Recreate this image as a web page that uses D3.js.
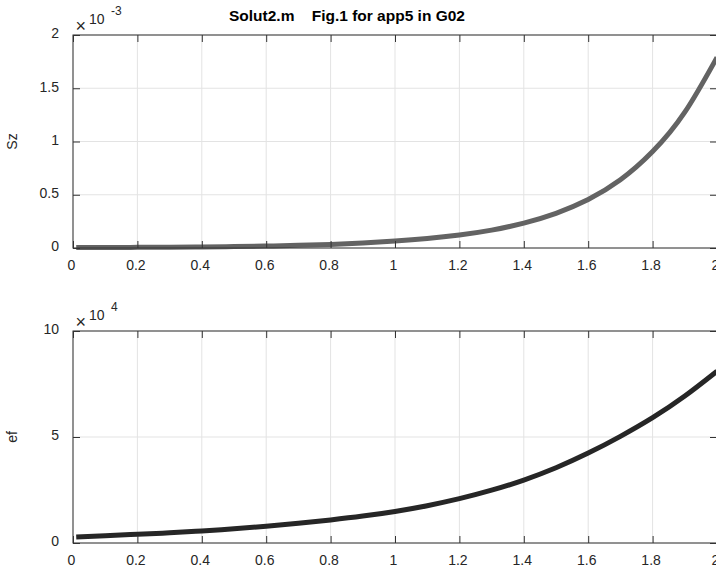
<!DOCTYPE html>
<html>
<head>
<meta charset="utf-8">
<script src="https://cdn.jsdelivr.net/npm/d3@7"></script>
<style>
  html, body { margin: 0; padding: 0; background: #fff; }
  svg { display: block; font-family: "Liberation Sans", Arial, Helvetica, sans-serif; }
</style>
</head>
<body>
<svg id="chart" width="716" height="569"></svg>
<script>
// ---- data ----
const xValues  = [0.01, 0.1, 0.2, 0.3, 0.4, 0.5, 0.6, 0.7, 0.8, 0.9, 1.0, 1.1, 1.2, 1.3, 1.4, 1.5, 1.6, 1.7, 1.8, 1.9, 2.0];
// Sz, in units of 1e-3
const szValues = [0.004, 0.005, 0.006, 0.008, 0.010, 0.013, 0.018, 0.025, 0.034, 0.047, 0.065, 0.089, 0.122, 0.168, 0.234, 0.326, 0.455, 0.640, 0.905, 1.275, 1.79];
// ef, in units of 1e4
const efValues = [0.28, 0.34, 0.41, 0.48, 0.57, 0.67, 0.79, 0.93, 1.09, 1.27, 1.49, 1.76, 2.09, 2.49, 2.97, 3.55, 4.24, 5.03, 5.91, 6.93, 8.10];

const xTicks      = [0, 0.2, 0.4, 0.6, 0.8, 1, 1.2, 1.4, 1.6, 1.8, 2];
const xTickLabels = ["0", "0.2", "0.4", "0.6", "0.8", "1", "1.2", "1.4", "1.6", "1.8", "2"];
const szTicks     = [0, 0.5, 1, 1.5, 2];
const szTickLabels = ["0", "0.5", "1", "1.5", "2"];
const efTicks     = [0, 5, 10];
const efTickLabels = ["0", "5", "10"];

const titleText = "Solut2.m\u00a0\u00a0\u00a0\u00a0Fig.1 for app5 in G02";

// ---- drawing ----
const svg = d3.select("#chart");
const axisColor = "#333333";
const gridColor = "#e3e3e3";
const fontSize = 14;

const x = d3.scaleLinear().domain([0, 2]).range([73, 717]);

function panel(cfg) {
  const y = d3.scaleLinear().domain(cfg.domain).range([cfg.bottom, cfg.top]);
  const g = svg.append("g");

  // grid
  g.append("g").selectAll("line").data(xTicks).join("line")
    .attr("x1", d => x(d)).attr("x2", d => x(d))
    .attr("y1", cfg.top).attr("y2", cfg.bottom)
    .attr("stroke", gridColor).attr("stroke-width", 1);
  g.append("g").selectAll("line").data(cfg.ticks).join("line")
    .attr("x1", x.range()[0]).attr("x2", x.range()[1])
    .attr("y1", d => y(d)).attr("y2", d => y(d))
    .attr("stroke", gridColor).attr("stroke-width", 1);

  // curve
  const line = d3.line()
    .x((d, i) => x(xValues[i]))
    .y(d => y(d))
    .curve(d3.curveNatural);
  g.append("path")
    .datum(cfg.values)
    .attr("d", line)
    .attr("fill", "none")
    .attr("stroke", cfg.color)
    .attr("stroke-width", 5);

  // box
  g.append("rect")
    .attr("x", x.range()[0]).attr("y", cfg.top)
    .attr("width", x.range()[1] - x.range()[0])
    .attr("height", cfg.bottom - cfg.top)
    .attr("fill", "none").attr("stroke", axisColor).attr("stroke-width", 1);

  // axes with inward ticks
  const xb = d3.axisBottom(x).tickValues(xTicks).tickSizeInner(-7).tickSizeOuter(0)
    .tickFormat((d, i) => xTickLabels[i]).tickPadding(12);
  const gx = g.append("g").attr("transform", `translate(0,${cfg.bottom})`).call(xb);
  const xt = d3.axisTop(x).tickValues(xTicks).tickSizeInner(-7).tickSizeOuter(0).tickFormat("");
  const gxt = g.append("g").attr("transform", `translate(0,${cfg.top})`).call(xt);

  const yl = d3.axisLeft(y).tickValues(cfg.ticks).tickSizeInner(-7).tickSizeOuter(0)
    .tickFormat((d, i) => cfg.labels[i]).tickPadding(14);
  const gy = g.append("g").attr("transform", `translate(${x.range()[0]},0)`).call(yl);
  const yr = d3.axisRight(y).tickValues(cfg.ticks).tickSizeInner(-7).tickSizeOuter(0).tickFormat("");
  const gyr = g.append("g").attr("transform", `translate(${x.range()[1]},0)`).call(yr);

  [gx, gxt, gy, gyr].forEach(a => {
    a.select(".domain").remove();
    a.selectAll("line").attr("stroke", axisColor);
    a.selectAll("text").attr("fill", "#262626").style("font-size", fontSize + "px")
      .style("font-family", '"Liberation Sans", Arial, sans-serif');
  });
  gx.selectAll("text").attr("dx", "-2");
  gy.selectAll("text").attr("dy", "0.2em");

  // y label
  g.append("text")
    .attr("transform", `translate(${cfg.labelX},${(cfg.top + cfg.bottom) / 2}) rotate(-90)`)
    .attr("text-anchor", "middle")
    .attr("dominant-baseline", "central")
    .attr("fill", "#262626")
    .style("font-size", fontSize + "px")
    .text(cfg.label);

  // exponent  (x10^n)
  g.append("text")
    .attr("x", 75.5).attr("y", cfg.top - 3.5)
    .attr("fill", "#262626").style("font-size", "18px")
    .text("\u00d7");
  g.append("text")
    .attr("x", 89).attr("y", cfg.top - 11)
    .attr("fill", "#262626").style("font-size", fontSize + "px")
    .text("10");
  g.append("text")
    .attr("x", 111).attr("y", cfg.top - 20)
    .attr("fill", "#262626").style("font-size", "12px")
    .text(cfg.exponent);
}

panel({ domain: [0, 2], top: 35, bottom: 248, ticks: szTicks, labels: szTickLabels,
        values: szValues, color: "#636363", label: "Sz", labelX: 12, exponent: "-3" });
panel({ domain: [0, 10], top: 331, bottom: 543, ticks: efTicks, labels: efTickLabels,
        values: efValues, color: "#262626", label: "ef", labelX: 12, exponent: "4" });

svg.append("text")
  .attr("x", 229).attr("y", 21)
  .attr("fill", "#000")
  .style("font-size", "15.5px")
  .style("font-weight", "bold")
  .text(titleText);
</script>
</body>
</html>
